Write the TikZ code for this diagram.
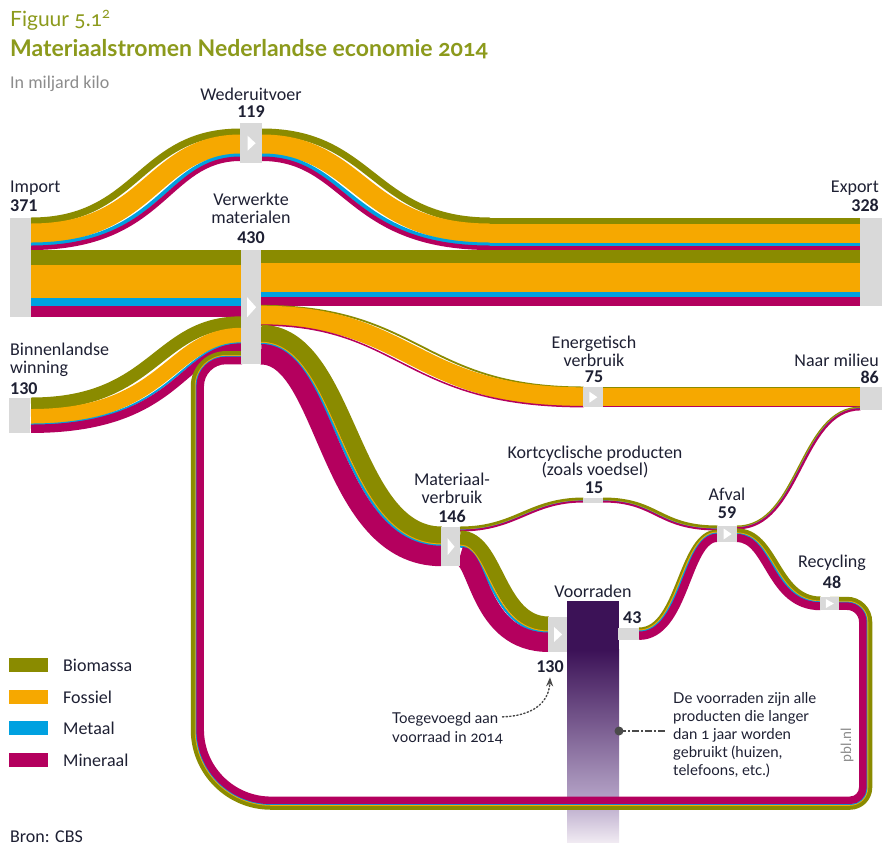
\documentclass[tikz,border=0pt]{standalone}
\usepackage{fontspec}
\setmainfont{Carlito}
\newfontfamily\osfont[Numbers=OldStyle]{Lato}
\usetikzlibrary{arrows.meta}

\definecolor{cBio}{HTML}{8A8B00}
\definecolor{cFos}{HTML}{F6A800}
\definecolor{cMet}{HTML}{00A1E0}
\definecolor{cMin}{HTML}{B4005E}
\definecolor{cBox}{HTML}{D9D9D9}
\definecolor{cTxt}{HTML}{1E2033}
\definecolor{cTitle}{HTML}{8C9A1C}
\definecolor{cGrey}{HTML}{8C8C8C}
\definecolor{cDark}{HTML}{4A4A4A}
\definecolor{cStockTop}{HTML}{3C1257}
\definecolor{cStockMid}{HTML}{B5A4C7}
\definecolor{cStockEnd}{HTML}{F0EAF2}

% S-shaped band between two horizontal ends.
% #1 x start, #2 top y at start, #3 x end, #4 top y at end,
% #5,#6 x of the control points of the top edge, #7 stripes colour/width
\newcommand\sband[7]{%
  \edef\sblist{#7}%
  \pgfmathsetmacro\sbdx{(#6-#5)/100}%
  \pgfmathsetmacro\sbdy{(#4-#2)/100}%
  \pgfmathsetmacro\sbk{(\sbdx-sqrt(\sbdx*\sbdx+\sbdy*\sbdy))/\sbdy}%
  \xdef\sbacc{0}%
  \foreach \sbc/\sbw in \sblist {%
    \pgfmathsetmacro\sbd{\sbacc+\sbw/2}%
    \pgfmathsetmacro\sbs{\sbd*\sbk}%
    \pgfmathsetmacro\sblw{\sbw+1}%
    \draw[draw=\sbc,line width=\sblw pt]
      (#1,{#2+\sbd}) .. controls ({#5+\sbs},{#2+\sbd}) and ({#6+\sbs},{#4+\sbd}) .. (#3,{#4+\sbd});
    \pgfmathsetmacro\sbn{\sbacc+\sbw}%
    \xdef\sbacc{\sbn}%
  }%
}
% straight horizontal band: #1 x start, #2 x end, #3 top y, #4 stripes
\newcommand\hband[4]{%
  \edef\sblist{#4}%
  \xdef\sbacc{0}%
  \foreach \sbc/\sbw in \sblist {%
    \pgfmathsetmacro\sbn{\sbacc+\sbw}%
    \fill[\sbc] (#1,{#3+\sbacc}) rectangle (#2,{#3+\sbn+0.3});
    \xdef\sbacc{\sbn}%
  }%
}
% recycling loop back to the processed materials
\newcommand\loopband[1]{%
  \edef\sblist{#1}%
  \xdef\sbacc{0}%
  \foreach \sbc/\sbw in \sblist {%
    \pgfmathsetmacro\sbd{\sbacc+\sbw/2}%
    \pgfmathsetmacro\sblw{\sbw+0.5}%
    \draw[draw=\sbc,line width=\sblw pt]
      (830,{597+\sbd}) -- (847,{597+\sbd})
      arc[start angle=-90,end angle=0,radius={25-\sbd}]
      -- ({872-\sbd},787.5)
      arc[start angle=0,end angle=90,radius={22-\sbd}]
      -- (271,{809.5-\sbd})
      arc[start angle=90,end angle=180,radius={80-\sbd}]
      -- ({191+\sbd},386.3)
      arc[start angle=180,end angle=270,radius={35-\sbd}]
      -- (242,{351.3+\sbd});
    \pgfmathsetmacro\sbn{\sbacc+\sbw}%
    \xdef\sbacc{\sbn}%
  }%
}
% white direction mark inside a hub: #1 node, #2 half height, #3 width
\newcommand\flowtip[3]{%
  \fill[white] ([shift={({-0.45*#3},{-#2})}]#1.center) -- ([shift={({-0.45*#3},{#2})}]#1.center)
    -- ([shift={({0.55*#3},0)}]#1.center) -- cycle;}

\begin{document}
\begin{tikzpicture}[x=1pt,y=-1pt,
  lbl/.style={text=cTxt,inner sep=0pt,font=\fontsize{18}{20}\selectfont},
  num/.style={text=cTxt,inner sep=0pt,font=\fontsize{18}{20}\selectfont\bfseries},
  note/.style={text=cTxt,inner sep=0pt,font=\fontsize{15}{18}\selectfont\osfont},
  hub/.style={fill=cBox,draw=none,inner sep=0pt,anchor=north west}]
\useasboundingbox (0,0) rectangle (882,847);
\fill[white] (0,0) rectangle (882,847);

% stock column
\fill[cStockTop] (567,601) rectangle (619,650);
\shade[top color=cStockTop,bottom color=cStockMid] (567,649.5) rectangle (619,800);
\shade[top color=cStockMid,bottom color=cStockEnd] (567,799.5) rectangle (619,842);

% import -> wederuitvoer -> export
\def\wedmix{cBio/6,cFos/19,cMet/3,cMin/3.5}
\sband{31}{218}{240.5}{129}{135.7}{135.7}{\wedmix}
\hband{240}{263}{129}{\wedmix}
\sband{262}{129}{490}{218}{376}{376}{\wedmix}
\hband{489.5}{860.5}{218}{\wedmix}
% import -> verwerkte materialen
\hband{31}{241.5}{250}{cBio/15,cFos/33,cMet/8,cMin/10.8}
% verwerkte materialen -> export
\hband{260.5}{860.5}{250}{cBio/12.7,cFos/29.3,cMet/5,cMin/8.4}
% verwerkte materialen -> energetisch verbruik -> naar milieu
\def\enmix{cBio/0.8,cFos/18.6,cMin/0.5}
\sband{261}{305.4}{583.5}{387}{422}{422}{\enmix}
\hband{583}{860.5}{387}{\enmix}
% binnenlandse winning -> verwerkte materialen
\sband{31}{398}{241.5}{316.8}{150}{150}{cBio/11.5,cFos/14.5,cMet/1,cMin/7.45}
% verwerkte materialen -> materiaalverbruik
\sband{261}{325.3}{441.5}{527}{357}{357}{cBio/17,cFos/1,cMet/1.2,cMin/19.5}
% materiaalverbruik -> kortcyclische producten -> afval
\def\kortmix{cBio/2.6,cFos/0.3,cMet/0.2,cMin/0.9}
\sband{460}{527}{583.5}{498}{515}{528}{\kortmix}
\hband{583}{603.5}{498}{\kortmix}
\sband{603}{498}{717.5}{526}{660}{660}{\kortmix}
% materiaalverbruik -> voorraden
\sband{460}{531}{548.5}{617}{504}{504}{cBio/14,cFos/1,cMet/1,cMin/18.45}
% voorraden -> afval
\sband{639}{628}{717.5}{530}{678}{678}{cBio/2,cFos/1,cMet/1,cMin/7.4}
% afval -> naar milieu
\sband{737}{526}{860.5}{407}{798.5}{798.5}{cBio/1.2,cFos/0.3,cMet/0.2,cMin/1.2}
% afval -> recycling -> verwerkte materialen
\def\recmix{cBio/4,cFos/0.8,cMet/0.8,cMin/7.1}
\sband{737}{528.9}{820.5}{597}{778.5}{778.5}{\recmix}
\loopband{\recmix}

% hubs
\node[hub,minimum width=21pt,minimum height=98.8pt] (import) at (10,218) {};
\node[hub,minimum width=22pt,minimum height=87.5pt] (export) at (860,218) {};
\node[hub,minimum width=22pt,minimum height=40pt] (wed) at (240,123) {};
\node[hub,minimum width=20pt,minimum height=114pt] (verw) at (241,250) {};
\node[hub,minimum width=21pt,minimum height=34.5pt] (winning) at (9,398) {};
\node[hub,minimum width=19.5pt,minimum height=20pt] (energ) at (583,387) {};
\node[hub,minimum width=22pt,minimum height=23pt] (milieu) at (860,387) {};
\node[hub,minimum width=19pt,minimum height=39pt] (matv) at (441,527) {};
\node[hub,minimum width=20pt,minimum height=5.5pt] (kort) at (583,497.5) {};
\node[hub,minimum width=19pt,minimum height=34.5pt] (stockin) at (548,617) {};
\node[hub,minimum width=21pt,minimum height=11.4pt] (stockout) at (618,628) {};
\node[hub,minimum width=20pt,minimum height=15.6pt] (afval) at (717,526) {};
\node[hub,minimum width=18.5pt,minimum height=12.7pt] (recyc) at (820,597) {};

\flowtip{wed}{7.5}{8}
\flowtip{verw}{10}{9}
\flowtip{energ}{5.5}{8}
\flowtip{matv}{8.5}{7}
\flowtip{stockin}{7.5}{8}
\flowtip{afval}{5.5}{8}
\flowtip{recyc}{4.5}{8}

% titles
\node[anchor=base west,inner sep=0pt,text=cTitle,font=\fontsize{21}{23}\selectfont\osfont] (fig) at (10,26) {Figuur 5.1\textsuperscript{2}};
\node[anchor=base west,inner sep=0pt,text=cTitle,font=\fontsize{23}{25}\selectfont\osfont\bfseries] (title) at (10,56.5) {Materiaalstromen Nederlandse economie 2014};
\node[anchor=base west,inner sep=0pt,text=cGrey,font=\fontsize{18}{20}\selectfont] (unit) at (10,88) {In miljard kilo};

% labels
\node[lbl,anchor=base west] (lImport) at (10,192) {Import};
\node[num,anchor=base west] (nImport) at (10,211) {371};
\node[lbl,anchor=base east] (lExport) at (879,192) {Export};
\node[num,anchor=base east] (nExport) at (879,211) {328};
\node[lbl,anchor=base] (lWed) at (251,100) {Wederuitvoer};
\node[num,anchor=base] (nWed) at (251,117.5) {119};
\node[lbl,anchor=base] (lVerw1) at (251,205) {Verwerkte};
\node[lbl,anchor=base] (lVerw2) at (251,223) {materialen};
\node[num,anchor=base] (nVerw) at (251,243) {430};
\node[lbl,anchor=base west] (lWin1) at (10,355) {Binnenlandse};
\node[lbl,anchor=base west] (lWin2) at (10,373) {winning};
\node[num,anchor=base west] (nWin) at (10,394) {130};
\node[lbl,anchor=base] (lEn1) at (594,348) {Energetisch};
\node[lbl,anchor=base] (lEn2) at (594,366) {verbruik};
\node[num,anchor=base] (nEn) at (594,382.5) {75};
\node[lbl,anchor=base east] (lMil) at (879,366) {Naar milieu};
\node[num,anchor=base east] (nMil) at (879,383) {86};
\node[lbl,anchor=base] (lKort1) at (595,458) {Kortcyclische producten};
\node[lbl,anchor=base] (lKort2) at (595,475) {(zoals voedsel)};
\node[num,anchor=base] (nKort) at (594,493) {15};
\node[lbl,anchor=base] (lMat1) at (452,485) {Materiaal-};
\node[lbl,anchor=base] (lMat2) at (452,503) {verbruik};
\node[num,anchor=base] (nMat) at (452,522) {146};
\node[lbl,anchor=base] (lStock) at (593,597) {Voorraden};
\node[num,anchor=base west] (nStockOut) at (623,623) {43};
\node[num,anchor=base] (nStockIn) at (550,672) {130};
\node[lbl,anchor=base] (lAfval) at (727,500) {Afval};
\node[num,anchor=base] (nAfval) at (727,518) {59};
\node[lbl,anchor=base] (lRec) at (832,567) {Recycling};
\node[num,anchor=base] (nRec) at (832,588) {48};

% legend
\fill[cBio] (8.5,658) rectangle (48,672);
\fill[cFos] (8.5,689.5) rectangle (48,703.5);
\fill[cMet] (8.5,721) rectangle (48,735);
\fill[cMin] (8.5,753) rectangle (48,767);
\node[lbl,anchor=base west] (legBio) at (63,671) {Biomassa};
\node[lbl,anchor=base west] (legFos) at (63,703) {Fossiel};
\node[lbl,anchor=base west] (legMet) at (63,734) {Metaal};
\node[lbl,anchor=base west] (legMin) at (63,766) {Mineraal};

% notes
\node[note,anchor=base west] (toeg1) at (392,723) {Toegevoegd aan};
\node[note,anchor=base west] (toeg2) at (392,742) {voorraad in 2014};
\draw[cDark,line width=1.4pt,dash pattern=on 1.4pt off 2.2pt,line cap=round,
      -{Stealth[length=9pt,width=7pt,line cap=butt]}]
  ([xshift=4pt,yshift=2pt]toeg1.east) .. controls (532,716) and (549,703) .. ([yshift=-5pt]nStockIn.south);
\node[note,anchor=base west] (vr1) at (673,703) {De voorraden zijn alle};
\node[note,anchor=base west] (vr2) at (673,721) {producten die langer};
\node[note,anchor=base west] (vr3) at (673,739) {dan 1 jaar worden};
\node[note,anchor=base west] (vr4) at (673,757) {gebruikt (huizen,};
\node[note,anchor=base west] (vr5) at (673,775) {telefoons, etc.)};
\coordinate (stockdot) at (619,731);
\coordinate (leaderend) at (666,731);
\fill[cDark] (stockdot) circle[radius=4.5];
\draw[cDark,line width=1.2pt,dash pattern=on 7pt off 2pt on 2pt off 2pt] (stockdot) -- (leaderend);

\node[rotate=90,inner sep=0pt,text=cGrey,font=\fontsize{15}{16}\selectfont] (pbl) at (847,745) {pbl.nl};
\node[lbl,anchor=base west] (src) at (10,842) {Bron: CBS};
\end{tikzpicture}
\end{document}
